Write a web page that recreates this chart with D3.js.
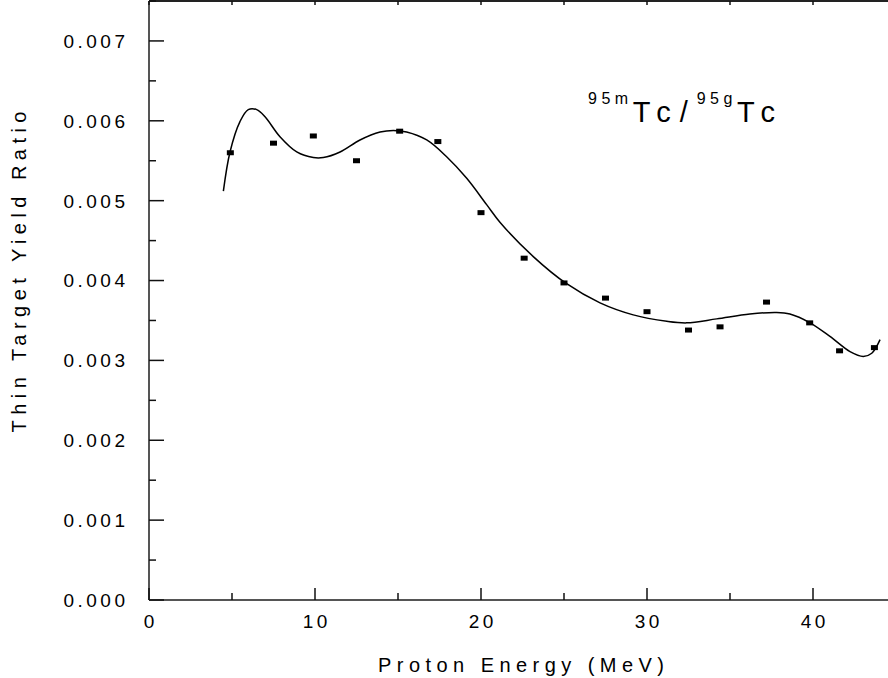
<!DOCTYPE html>
<html>
<head>
<meta charset="utf-8">
<script src="https://cdn.jsdelivr.net/npm/d3@7"></script>
<style>
  body { margin: 0; background: #fff; }
  svg { display: block; font-family: "Liberation Sans", Arial, sans-serif; }
</style>
</head>
<body>
<svg id="graphic-svg" width="888" height="678"></svg>
<script>
var svg = d3.select("#graphic-svg");

// Measured points (proton energy, MeV / yield ratio)
var pointEnergy = [4.9, 7.5, 9.9, 12.5, 15.1, 17.4, 20.0, 22.6, 25.0, 27.5, 30.0, 32.5, 34.4, 37.2, 39.8, 41.6, 43.7];
var pointRatio = [0.00560, 0.00572, 0.00581, 0.00550, 0.00587, 0.00574, 0.00485, 0.00428, 0.00397, 0.00378, 0.00361, 0.00338, 0.00342, 0.00373, 0.00347, 0.00312, 0.00316];

// Fitted curve
var fitEnergy = [4.48, 4.88, 5.48, 5.98, 6.49, 6.99, 7.89, 8.90, 9.90, 10.50, 11.51, 12.71, 13.92, 14.72, 15.52, 16.73, 17.93, 19.14, 20.34, 21.14, 23.15, 25.16, 27.17, 29.17, 31.19, 32.39, 34.20, 36.20, 37.81, 38.61, 39.82, 41.02, 42.23, 43.03, 43.54, 44.04];
var fitRatio = [0.00512, 0.00561, 0.00599, 0.00614, 0.00614, 0.00605, 0.00580, 0.00561, 0.00554, 0.00554, 0.00561, 0.00576, 0.00586, 0.00588, 0.00586, 0.00576, 0.00555, 0.00528, 0.00495, 0.00473, 0.00430, 0.00396, 0.00372, 0.00357, 0.00349, 0.00347, 0.00352, 0.00358, 0.00360, 0.00358, 0.00347, 0.00330, 0.00311, 0.00305, 0.00309, 0.00326];

var xMajor = [0, 10, 20, 30, 40];
var xMinor = [5, 15, 25, 35];
var xTop = [0, 5, 10, 15, 20, 25, 30, 35, 40, 45];
var yMajor = [0, 0.001, 0.002, 0.003, 0.004, 0.005, 0.006, 0.007];
var yMinor = [0.0005, 0.0015, 0.0025, 0.0035, 0.0045, 0.0055, 0.0065, 0.0075];

var margin = { left: 149, top: 1, bottom: 600 };

// Scales
var xScale = d3.scaleLinear().domain([0, 45]).range([margin.left, margin.left + 45 * 16.6]);
var yScale = d3.scaleLinear().domain([0, 0.0075]).range([margin.bottom, margin.top]);

var axisGray = "#555";

// frame lines
svg.append("line")
   .attr("x1", xScale(0)).attr("x2", xScale(45))
   .attr("y1", yScale(0)).attr("y2", yScale(0))
   .style("stroke", axisGray).style("stroke-width", 2);
svg.append("line")
   .attr("x1", xScale(0)).attr("x2", xScale(0))
   .attr("y1", yScale(0)).attr("y2", yScale(0.0075))
   .style("stroke", axisGray).style("stroke-width", 2);
svg.append("line")
   .attr("x1", xScale(0)).attr("x2", xScale(45))
   .attr("y1", yScale(0.0075)).attr("y2", yScale(0.0075))
   .style("stroke", "#222").style("stroke-width", 2);

// ticks (inside the frame)
var tickG = svg.append("g").style("stroke", "#111").style("stroke-width", 1.5);
tickG.selectAll(".yMaj").data(yMajor).enter().append("line")
     .attr("x1", xScale(0)).attr("x2", xScale(0) + 15)
     .attr("y1", function(d) { return yScale(d); })
     .attr("y2", function(d) { return yScale(d); });
tickG.selectAll(".yMin").data(yMinor).enter().append("line")
     .attr("x1", xScale(0)).attr("x2", xScale(0) + 7)
     .attr("y1", function(d) { return yScale(d); })
     .attr("y2", function(d) { return yScale(d); });
tickG.selectAll(".xMaj").data(xMajor).enter().append("line")
     .attr("x1", function(d) { return xScale(d); })
     .attr("x2", function(d) { return xScale(d); })
     .attr("y1", yScale(0)).attr("y2", yScale(0) - 12);
tickG.selectAll(".xMin").data(xMinor).enter().append("line")
     .attr("x1", function(d) { return xScale(d); })
     .attr("x2", function(d) { return xScale(d); })
     .attr("y1", yScale(0)).attr("y2", yScale(0) - 7);
tickG.selectAll(".xTop").data(xTop).enter().append("line")
     .attr("x1", function(d) { return xScale(d); })
     .attr("x2", function(d) { return xScale(d); })
     .attr("y1", yScale(0.0075)).attr("y2", yScale(0.0075) + 4);

// tick labels
svg.selectAll(".yLabel").data(yMajor).enter().append("text")
   .attr("class", "yLabel")
   .attr("x", 128.5)
   .attr("y", function(d) { return yScale(d); })
   .attr("dy", "0.36em")
   .style("text-anchor", "end")
   .style("font-size", "19px")
   .style("letter-spacing", "3.5px")
   .text(d3.format(".3f"));
svg.selectAll(".xLabel").data(xMajor).enter().append("text")
   .attr("class", "xLabel")
   .attr("x", function(d) { return xScale(d) + 1.75; })
   .attr("y", 628)
   .style("text-anchor", "middle")
   .style("font-size", "19px")
   .style("letter-spacing", "3.5px")
   .text(function(d) { return d; });

// axis titles
svg.append("text")
   .attr("x", 521).attr("y", 672)
   .attr("textLength", 286).attr("lengthAdjust", "spacing")
   .style("text-anchor", "middle")
   .style("font-size", "20px")
   .text("Proton Energy (MeV)");
svg.append("text")
   .attr("transform", "translate(26,272) rotate(-90)")
   .attr("textLength", 321).attr("lengthAdjust", "spacing")
   .style("text-anchor", "middle")
   .style("font-size", "20px")
   .text("Thin Target Yield Ratio");

// fitted curve
var fitData = fitEnergy.map(function(e, i) { return { e: e, r: fitRatio[i] }; });
var line = d3.line()
             .x(function(d) { return xScale(d.e); })
             .y(function(d) { return yScale(d.r); })
             .curve(d3.curveCatmullRom);
svg.append("path")
   .datum(fitData)
   .attr("d", line)
   .style("fill", "none")
   .style("stroke", "#000")
   .style("stroke-width", 1.5);

// data points
var pointData = pointEnergy.map(function(e, i) { return { e: e, r: pointRatio[i] }; });
svg.selectAll(".pt").data(pointData).enter().append("rect")
   .attr("class", "pt")
   .attr("x", function(d) { return xScale(d.e) - 3.5; })
   .attr("y", function(d) { return yScale(d.r) - 2.5; })
   .attr("width", 7)
   .attr("height", 5)
   .style("fill", "#000");

// annotation
var note = svg.append("text").attr("x", 588).attr("y", 122).style("fill", "#000");
note.append("tspan").attr("dy", -18).style("font-size", "16px").style("letter-spacing", "4.5px").text("95m");
note.append("tspan").attr("dy", 18).style("font-size", "29px").style("letter-spacing", "9px").text("Tc/");
note.append("tspan").attr("dy", -18).style("font-size", "16px").style("letter-spacing", "4.5px").text("95g");
note.append("tspan").attr("dy", 18).style("font-size", "29px").style("letter-spacing", "9px").text("Tc");
</script>
</body>
</html>
